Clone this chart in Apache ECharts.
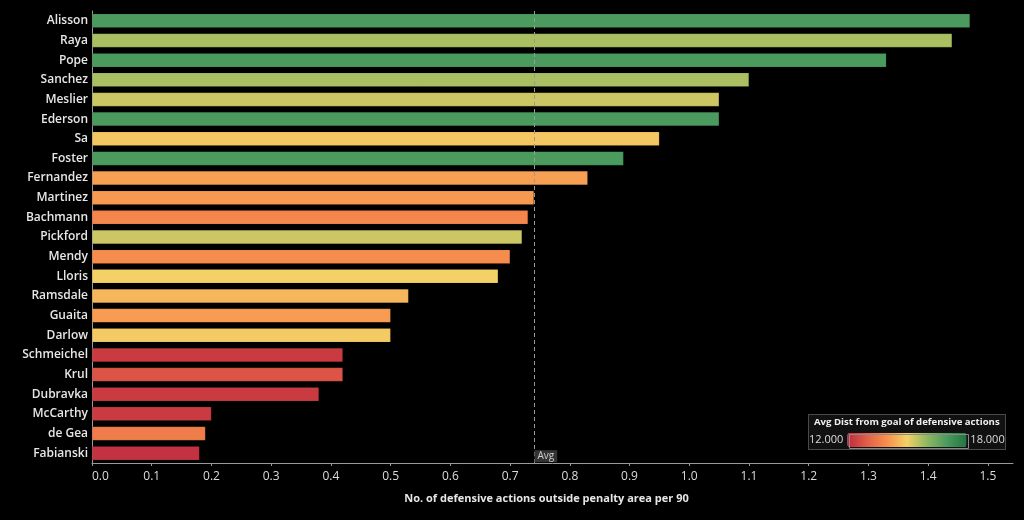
<!DOCTYPE html>
<html>
<head>
<meta charset="utf-8">
<script src="https://cdn.jsdelivr.net/npm/echarts@6/dist/echarts.min.js"></script>
<style>html,body{margin:0;padding:0;background:#000;}#c{width:1024px;height:520px;}</style>
</head>
<body>
<div id="c"></div>
<script>
const players = ['Alisson','Raya','Pope','Sanchez','Meslier','Ederson','Sa','Foster','Fernandez','Martinez','Bachmann','Pickford','Mendy','Lloris','Ramsdale','Guaita','Darlow','Schmeichel','Krul','Dubravka','McCarthy','de Gea','Fabianski'];
const actionsPer90 = [1.47,1.44,1.33,1.10,1.05,1.05,0.95,0.89,0.83,0.74,0.73,0.72,0.70,0.68,0.53,0.50,0.50,0.42,0.42,0.38,0.20,0.19,0.18];
const avgDist = [17.0,15.75,17.0,15.75,15.4,17.0,14.85,17.0,14.25,14.15,13.8,15.4,13.95,15.0,14.6,14.2,14.9,12.3,12.8,12.3,12.3,13.6,12.15];
const xTicks = [0,0.1,0.2,0.3,0.4,0.5,0.6,0.7,0.8,0.9,1.0,1.1,1.2,1.3,1.4,1.5];
const colorStops = ['#be2a3e','#e25f48','#f88f4d','#f4d166','#90b960','#4b9b5f','#22763f'];

const avg = actionsPer90.reduce((a,b)=>a+b,0)/actionsPer90.length;
const data = players.map((p,i)=>[actionsPer90[i], p, avgDist[i]]);
const font = "'Open Sans', 'Noto Sans', sans-serif";

const chart = echarts.init(document.getElementById('c'));
chart.setOption({
  backgroundColor: '#000',
  animation: false,
  grid: {left: 92, right: 11, top: 11, bottom: 57, containLabel: false},
  xAxis: {
    type: 'value', min: 0, max: 1.542,
    axisLine: {show: true, lineStyle: {color: '#9a9a9a', width: 1}},
    axisTick: {show: true, length: 3, customValues: xTicks, lineStyle: {color: '#9a9a9a'}},
    axisLabel: {customValues: xTicks, color: '#dcdcdc', fontSize: 12, fontFamily: font, margin: 8,
      alignMinLabel: 'left', formatter: v => v.toFixed(1)},
    splitLine: {show: false},
    name: 'No. of defensive actions outside penalty area per 90',
    nameLocation: 'middle', nameGap: 30,
    nameTextStyle: {color: '#e6e6e6', fontSize: 11, fontWeight: 'bold', fontFamily: font, padding: [0, 12, 0, 0]}
  },
  yAxis: {
    type: 'category', data: players, inverse: true,
    axisLine: {show: true, lineStyle: {color: '#9a9a9a', width: 1}},
    axisTick: {show: false},
    axisLabel: {color: '#e6e6e6', fontSize: 12, fontWeight: 600, fontFamily: font, margin: 4}
  },
  visualMap: {
    type: 'continuous', min: 12, max: 18, dimension: 2, seriesIndex: 0,
    orient: 'horizontal', left: 794, top: 418,
    itemWidth: 14, itemHeight: 119, calculable: false,
    text: ['18.000', '12.000'], textGap: 4,
    textStyle: {color: '#dcdcdc', fontSize: 11, fontFamily: font},
    inRange: {color: colorStops}
  },
  graphic: [
    {type: 'rect', left: 808, top: 414, z: -1, silent: true,
     shape: {width: 197, height: 35},
     style: {fill: '#111', stroke: '#8a8a8a', lineWidth: 1, lineDash: [1, 1]}},
    {type: 'rect', left: 847, top: 432, z: 100, silent: true,
     shape: {width: 119, height: 14},
     style: {fill: 'none', stroke: '#8a8a8a', lineWidth: 1}},
    {type: 'text', left: 814, top: 417, silent: true,
     style: {text: 'Avg Dist from goal of defensive actions', fill: '#f0f0f0', fontSize: 9.6, fontWeight: 'bold', fontFamily: font}}
  ],
  series: [{
    type: 'bar', data: data, encode: {x: 0, y: 1},
    barWidth: 14,
    itemStyle: {borderColor: 'rgba(0,0,0,0.2)', borderWidth: 0.5},
    markLine: {
      silent: true, symbol: ['none','none'],
      lineStyle: {color: '#9a9a9a', type: [4, 3], width: 1},
      label: {show: false},
      data: [{xAxis: avg}]
    },
    markPoint: {
      silent: true, symbol: 'rect', symbolSize: 0,
      label: {show: true, position: 'right', distance: 1, offset: [0, 3], formatter: 'Avg',
        color: '#cfcfcf', fontSize: 10, fontFamily: font, backgroundColor: '#333', padding: [1, 3, 1, 3]},
      data: [{coord: [avg, 'Fabianski']}]
    }
  }]
});
</script>
</body>
</html>
